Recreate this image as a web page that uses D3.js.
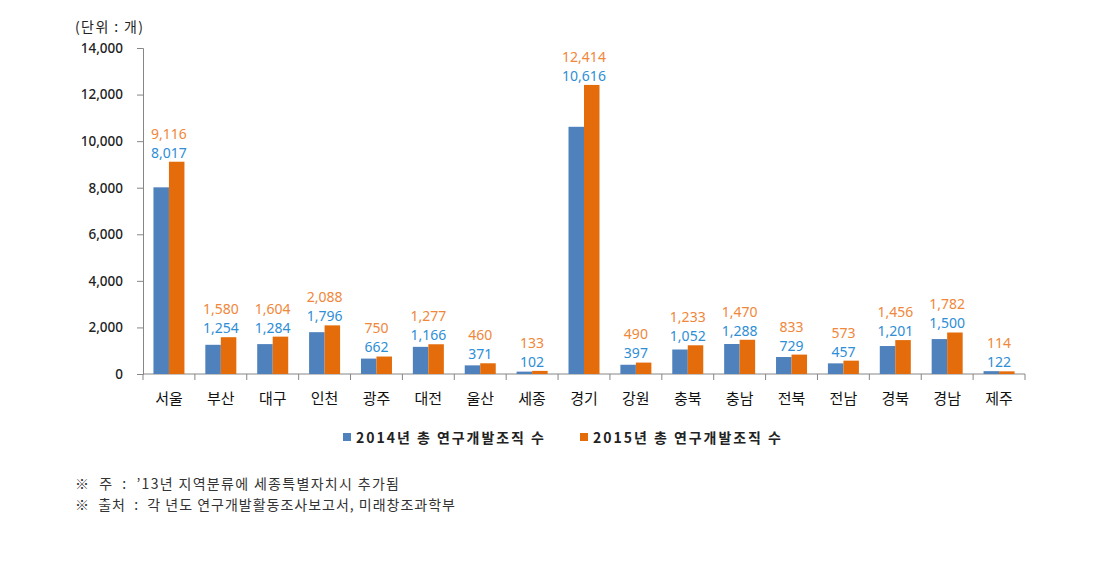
<!DOCTYPE html>
<html><head><meta charset="utf-8">
<script src="https://cdn.jsdelivr.net/npm/d3@7/dist/d3.min.js"></script>
<style>body{margin:0;background:#fff}svg{display:block}text{font-family:"Noto Sans CJK KR","Noto Sans",sans-serif}</style>
</head><body><svg id="c" width="1099" height="562"></svg>
<script>
const categories = ["서울","부산","대구","인천","광주","대전","울산","세종","경기","강원","충북","충남","전북","전남","경북","경남","제주"];
const values2014 = [8017,1254,1284,1796,662,1166,371,102,10616,397,1052,1288,729,457,1201,1500,122];
const values2015 = [9116,1580,1604,2088,750,1277,460,133,12414,490,1233,1470,833,573,1456,1782,114];
const seriesNames = ["2014년 총 연구개발조직 수","2015년 총 연구개발조직 수"];
const yTicks = [0,2000,4000,6000,8000,10000,12000,14000];
const unitLabel = "(단위 : 개)";
const notes = ["※  주  :  ’13년 지역분류에 세종특별자치시 추가됨","※  출처  :  각 년도 연구개발활동조사보고서, 미래창조과학부"];

const barColors = ["#4F81BD","#E46C0A"];
const labelColors = ["#2E8ED6","#F0873A"];
const svg = d3.select("#c");
const L=143, R=1025, T=48, B=374;
const x = d3.scaleBand().domain(categories).range([L,R]).paddingInner(0).paddingOuter(0);
const y = d3.scaleLinear().domain([0,14000]).range([B,T]);
const bw = x.bandwidth();
const barW = 15.5;

// y axis
const ya = svg.append("g").attr("transform",`translate(${L},0)`).call(d3.axisLeft(y).tickValues(yTicks).tickSize(6).tickFormat(d3.format(",")));
ya.select(".domain").attr("stroke","#868686");
ya.selectAll(".tick line").attr("stroke","#868686");
ya.selectAll(".tick text").attr("font-size",13.5).attr("fill","#222").attr("x",-20).style("font-family","'Noto Sans',sans-serif").attr("font-weight","500");

// x axis
const xg = svg.append("g");
xg.append("line").attr("x1",L).attr("x2",R).attr("y1",B).attr("y2",B).attr("stroke","#868686");
const bounds = categories.map(c=>x(c)).concat([R]);
xg.selectAll(".xt").data(bounds).join("line").attr("x1",d=>d).attr("x2",d=>d).attr("y1",B).attr("y2",B+6).attr("stroke","#868686");
xg.selectAll(".xl").data(categories).join("text").attr("x",d=>x(d)+bw/2).attr("y",B+30).attr("text-anchor","middle").attr("font-size",15).attr("fill","#111").text(d=>d);

// bars
const g = svg.append("g");
categories.forEach((c,i)=>{
  const cx = x(c)+bw/2;
  const vals=[values2014[i],values2015[i]];
  vals.forEach((v,k)=>{
    g.append("rect").attr("x",k===0?cx-barW:cx).attr("width",barW).attr("y",y(v)).attr("height",B-y(v)).attr("fill",barColors[k]);
  });
  const top = y(Math.max(...vals));
  g.append("text").attr("x",cx).attr("y",top-9).attr("dy","0.35em").attr("text-anchor","middle").attr("font-size",14).attr("fill",labelColors[0]).style("font-family","'Noto Sans',sans-serif").text(d3.format(",")(vals[0]));
  g.append("text").attr("x",cx).attr("y",top-28).attr("dy","0.35em").attr("text-anchor","middle").attr("font-size",14).attr("fill",labelColors[1]).style("font-family","'Noto Sans',sans-serif").text(d3.format(",")(vals[1]));
});

// unit
svg.append("text").attr("x",75).attr("y",32).attr("font-size",14).attr("fill","#222").attr("textLength",68).attr("lengthAdjust","spacing").text(unitLabel);

// legend
const lx=[343,580];
seriesNames.forEach((n,k)=>{
  svg.append("rect").attr("x",lx[k]).attr("y",433).attr("width",8).attr("height",8).attr("fill",barColors[k]);
  svg.append("text").attr("x",lx[k]+13).attr("y",443).attr("font-size",14).attr("font-weight","600").attr("fill","#222").attr("textLength",188).attr("lengthAdjust","spacing").text(n);
});

// notes
const noteLens=[324,380];
notes.forEach((t,i)=>{
  svg.append("text").attr("x",75).attr("y",489+i*21).attr("font-size",14).attr("fill","#333").attr("textLength",noteLens[i]).attr("lengthAdjust","spacing").style("white-space","pre").text(t);
});
</script></body></html>
